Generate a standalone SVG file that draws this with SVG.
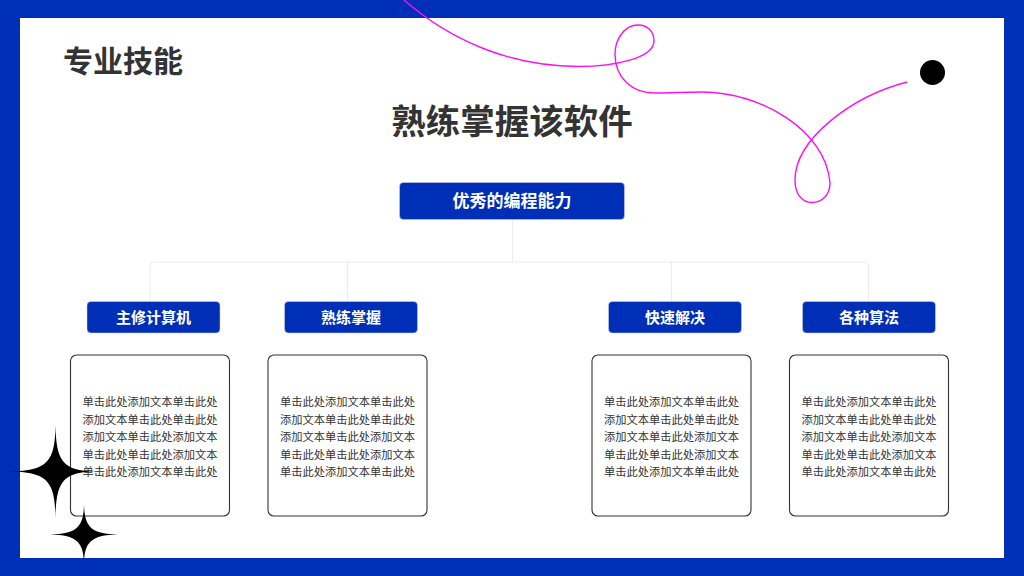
<svg xmlns="http://www.w3.org/2000/svg" width="1024" height="576" viewBox="0 0 1024 576">
<style>
text{font-family:"Noto Sans CJK SC","Noto Sans",sans-serif}
.h{fill:#333;font-weight:700}
.hd rect{fill:#002fb7;stroke:#d0d9f2;stroke-width:.5}
.hd text{fill:#fff;font-weight:700;text-anchor:middle}
.box rect{fill:#fff;stroke:#333;stroke-width:1.1}
.box text{fill:#333;font-size:11.25px}
.c{fill:none;stroke:#ececec;stroke-width:1}
.m{fill:none;stroke:#fb10f5;stroke-width:1.4}
</style>
<rect width="1024" height="576" fill="#002fb7"/>
<rect x="20" y="18" width="984" height="540" fill="#fff"/>
<text class="h" x="63" y="72" font-size="30">专业技能</text>
<text class="h" x="512" y="134" font-size="34.500" text-anchor="middle">熟练掌握该软件</text>
<g id="connectors">
<path class="c" d="M512.500 220V262M150 302V266Q150 262 154 262H864Q868.500 262 868.500 266V302M347.500 262V302M671.500 262V302"/>
</g>
<g id="n0" class="hd"><rect x="399.500" y="182.500" width="225" height="37" rx="4"/><text x="512" y="207" font-size="17">优秀的编程能力</text></g>
<g id="n1" class="hd"><rect x="87" y="301.500" width="133" height="31.500" rx="4"/><text x="153.500" y="323" font-size="15">主修计算机</text></g>
<g id="n2" class="hd"><rect x="284.500" y="301.500" width="133" height="31.500" rx="4"/><text x="351" y="323" font-size="15">熟练掌握</text></g>
<g id="n3" class="hd"><rect x="608.500" y="301.500" width="133" height="31.500" rx="4"/><text x="675" y="323" font-size="15">快速解决</text></g>
<g id="n4" class="hd"><rect x="802.500" y="301.500" width="133" height="31.500" rx="4"/><text x="869" y="323" font-size="15">各种算法</text></g>
<g id="b1" class="box"><rect x="70.500" y="355" width="159" height="161" rx="6"/>
<text x="82.500" y="406">单击此处添加文本单击此处</text><text x="82.500" y="423.500">添加文本单击此处单击此处</text><text x="82.500" y="441">添加文本单击此处添加文本</text><text x="82.500" y="458.500">单击此处单击此处添加文本</text><text x="82.500" y="476">单击此处添加文本单击此处</text></g>
<g id="b2" class="box"><rect x="268" y="355" width="159" height="161" rx="6"/>
<text x="280" y="406">单击此处添加文本单击此处</text><text x="280" y="423.500">添加文本单击此处单击此处</text><text x="280" y="441">添加文本单击此处添加文本</text><text x="280" y="458.500">单击此处单击此处添加文本</text><text x="280" y="476">单击此处添加文本单击此处</text></g>
<g id="b3" class="box"><rect x="592" y="355" width="159" height="161" rx="6"/>
<text x="604" y="406">单击此处添加文本单击此处</text><text x="604" y="423.500">添加文本单击此处单击此处</text><text x="604" y="441">添加文本单击此处添加文本</text><text x="604" y="458.500">单击此处单击此处添加文本</text><text x="604" y="476">单击此处添加文本单击此处</text></g>
<g id="b4" class="box"><rect x="789.500" y="355" width="159" height="161" rx="6"/>
<text x="801.500" y="406">单击此处添加文本单击此处</text><text x="801.500" y="423.500">添加文本单击此处单击此处</text><text x="801.500" y="441">添加文本单击此处添加文本</text><text x="801.500" y="458.500">单击此处单击此处添加文本</text><text x="801.500" y="476">单击此处添加文本单击此处</text></g>
<path class="m" d="M404 0C450 40 510 66.500 578 66.500C615 66.500 654 58 654 41C654 31 647 25 638 25C624 25 615 40 615 54C615 78 632 93 655 93C670 93 685 92 702 92C760 92 826 130 830 183C830 195 822 202.500 812 202.500C801 202.500 795 193 795 180C795 140 850 97 907 82"/>
<circle cx="932.500" cy="72.500" r="12.500" fill="#000"/>
<path d="M55.500 425C56 461 63 471 95 471.500C63 472 56 482 55.500 518C55 482 48 472 10 471.500C48 471 55 461 55.500 425Z" fill="#000"/>
<path d="M84 504C84.500 526 90 534 118 534.500C90 535 84.500 543 84 564C83.500 543 78 535 50 534.500C78 534 83.500 526 84 504Z" fill="#000"/>
</svg>
